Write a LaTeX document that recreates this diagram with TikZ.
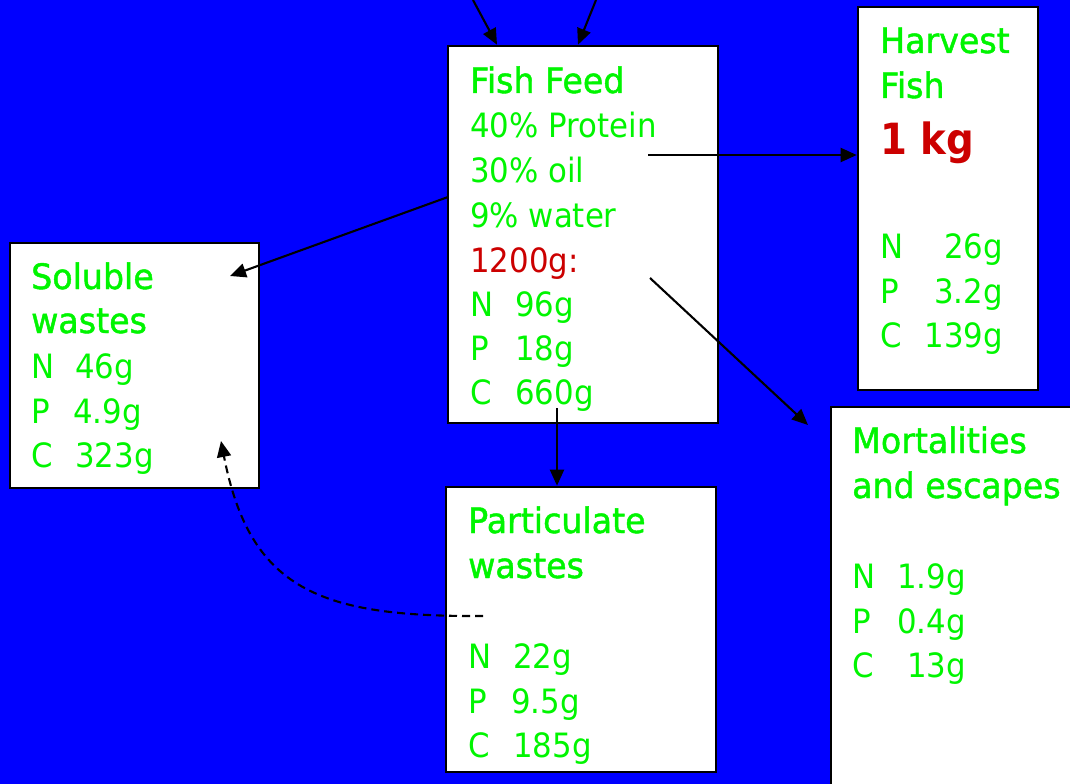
\documentclass[tikz,border=0pt]{standalone}
\usepackage{fontspec}
\setmainfont{DejaVu Sans}[FakeStretch=0.92]
\newfontfamily\ttlfont{DejaVu Sans}[FakeStretch=0.95, FakeBold=1.3]
\newfontfamily\bigfont{DejaVu Sans Bold}[FakeStretch=0.9]
\usetikzlibrary{arrows.meta}
\definecolor{bgblue}{RGB}{0,0,255}
\definecolor{lgreen}{RGB}{0,245,0}
\definecolor{dred}{RGB}{204,0,0}
\tikzset{
  box/.style={draw=black, line width=2.6bp, fill=white, inner sep=0pt, rectangle},
  body/.style={anchor=base west, inner sep=0pt, text=lgreen, font=\fontsize{33.5bp}{34bp}\selectfont},
  bodyr/.style={body, anchor=base east},
  ttl/.style={anchor=base west, inner sep=0pt, text=lgreen, font=\ttlfont\fontsize{35bp}{36bp}\selectfont},
  flow/.style={line width=2.1bp, -{Triangle[length=16bp,width=14bp]}},
  dflow/.style={flow, dash pattern=on 8bp off 5bp},
}
\begin{document}
\begin{tikzpicture}[x=1bp,y=-1bp]
\clip (0,0) rectangle (1070,784);
\fill[bgblue] (0,0) rectangle (1070,784);
% boxes
\node[box, minimum width=270bp, minimum height=377bp] (feed) at (583,234.5) {};
\node[box, minimum width=249bp, minimum height=245bp] (sol) at (134.5,365.5) {};
\node[box, minimum width=180bp, minimum height=383bp] (harv) at (948,198.5) {};
\node[box, minimum width=270bp, minimum height=285bp] (part) at (581,629.5) {};
\node[box, minimum width=269bp, minimum height=413bp] (mort) at (965.5,613.5) {};
% connector ends
\coordinate (in1) at (473,0);
\coordinate (in2) at (596,0);
\coordinate (fH) at (648,155);
\coordinate (fS) at (448,197);
\coordinate (sT) at (230,276);
\coordinate (fM) at (650,278);
\coordinate (mT) at (808,425);
\coordinate (fP) at (557,408);
\coordinate (pS) at (483,616);
\coordinate (sB) at (221,441);
% connectors
\draw[flow] (in1) -- (497,0 |- feed.north);
\draw[flow] (in2) -- (578,0 |- feed.north);
\draw[flow] (fH) -- (fH -| harv.west);
\draw[flow] (fS) -- (sT);
\draw[flow] (fM) -- (mT);
\draw[flow] (fP) -- (fP |- part.north);
\draw[dflow] (pS) .. controls (320,617) and (250,590) .. (sB);
% Fish feed texts
\node[ttl] (f1) at (470,93) {Fish Feed};
\node[body] (f2) at (470,137) {40\% Protein};
\node[body] (f3) at (470,182) {30\% oil};
\node[body] (f4) at (470,227) {9\% water};
\node[body, text=dred] (f5) at (470,272) {1200g:};
\node[body] (f6) at (470,316) {N};
\node[body] (f6v) at (515,316) {96g};
\node[body] (f7) at (470,360) {P};
\node[body] (f7v) at (515,360) {18g};
\node[body] (f8) at (470,404) {C};
\node[body] (f8v) at (515,404) {660g};
% Soluble
\node[ttl] (s1) at (31,289) {Soluble};
\node[ttl] (s2) at (31,333) {wastes};
\node[body] (s3) at (31,378) {N};
\node[body] (s3v) at (75,378) {46g};
\node[body] (s4) at (31,423) {P};
\node[body] (s4v) at (73,423) {4.9g};
\node[body] (s5) at (31,467) {C};
\node[body] (s5v) at (75,467) {323g};
% Harvest
\node[ttl] (h1) at (880,53) {Harvest};
\node[ttl] (h2) at (880,98) {Fish};
\node[ttl, text=dred, font=\bigfont\fontsize{43bp}{44bp}\selectfont] (h3) at (880,154) {1 kg};
\node[body] (h4) at (880,258) {N};
\node[bodyr] (h4v) at (1003,258) {26g};
\node[body] (h5) at (880,303) {P};
\node[bodyr] (h5v) at (1003,303) {3.2g};
\node[body] (h6) at (880,347) {C};
\node[bodyr] (h6v) at (1003,347) {139g};
% Particulate
\node[ttl] (p1) at (468,533) {Particulate};
\node[ttl] (p2) at (468,578) {wastes};
\node[body] (p3) at (468,668) {N};
\node[body] (p3v) at (513,668) {22g};
\node[body] (p4) at (468,713) {P};
\node[body] (p4v) at (511,713) {9.5g};
\node[body] (p5) at (468,757) {C};
\node[body] (p5v) at (513,757) {185g};
% Mortalities
\node[ttl] (m1) at (852,453) {Mortalities};
\node[ttl] (m2) at (852,498) {and escapes};
\node[body] (m3) at (852,588) {N};
\node[bodyr] (m3v) at (966,588) {1.9g};
\node[body] (m4) at (852,633) {P};
\node[bodyr] (m4v) at (966,633) {0.4g};
\node[body] (m5) at (852,677) {C};
\node[bodyr] (m5v) at (966,677) {13g};
\end{tikzpicture}
\end{document}
